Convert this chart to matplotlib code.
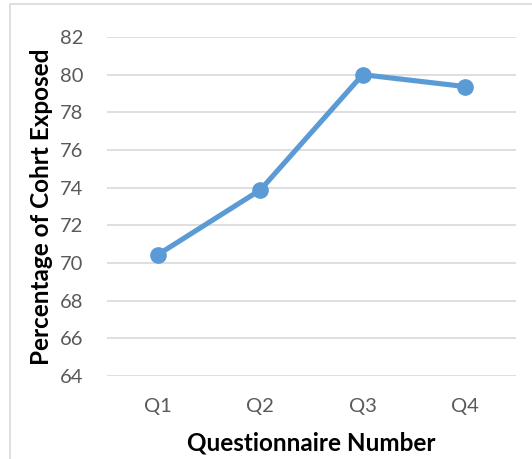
import matplotlib.pyplot as plt
from matplotlib.patches import Rectangle

questions = ['Q1', 'Q2', 'Q3', 'Q4']
percent_exposed = [70.45, 73.88, 80.0, 79.37]
y_ticks = [64, 66, 68, 70, 72, 74, 76, 78, 80, 82]

plt.rcParams['font.family'] = ['Lato', 'DejaVu Sans']

fig = plt.figure(figsize=(5.32, 4.59), dpi=100)
# plot area in pixels: x 107..516, y 37..376 (from top)
ax = fig.add_axes([107/532, 1 - 376/459, (516-107)/532, (376-37)/459])

x = list(range(len(questions)))
ax.plot(x, percent_exposed, color='#5B9BD5', lw=3.7, marker='o', ms=11,
        solid_capstyle='round', zorder=3)

ax.set_xlim(-0.5, len(questions) - 0.5)
ax.set_ylim(64, 82)
ax.set_yticks(y_ticks)
ax.set_xticks(x)
ax.set_xticklabels(questions)
ax.grid(axis='y', color='#D9D9D9', lw=1.2)
ax.set_axisbelow(True)
for s in ax.spines.values():
    s.set_visible(False)
ax.tick_params(length=0, labelsize=14.5, labelcolor='#595959')
ax.tick_params(axis='y', pad=17)
ax.tick_params(axis='x', pad=16)

ax.set_xlabel('Questionnaire Number', fontsize=17.5, fontweight='bold', labelpad=12)
ax.set_ylabel('Percentage of Cohrt Exposed', fontsize=17.5, fontweight='bold', labelpad=5)

# chart border
fig.patches.append(Rectangle((10/532, -0.1), 1.2, 1 - 4/459 + 0.1, transform=fig.transFigure,
                             fill=False, edgecolor='#D9D9D9', lw=1.2))

fig.savefig('out.png', dpi=100)
